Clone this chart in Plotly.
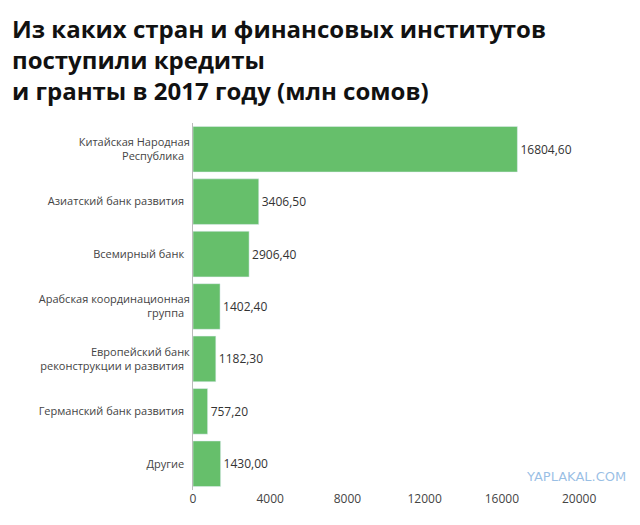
import plotly.graph_objects as go

categories = ["Китайская Народная<br>Республика", "Азиатский банк развития", "Всемирный банк",
              "Арабская координационная<br>группа", "Европейский банк<br>реконструкции и развития",
              "Германский банк развития", "Другие"]
values = [16804.60, 3406.50, 2906.40, 1402.40, 1182.30, 757.20, 1430.00]
labels = [f"{v:.2f}".replace(".", ",") for v in values]
xticks = [0, 4000, 8000, 12000, 16000, 20000]

L, R, T, B = 185, 11, 115, 43
W, H = 640 - L - R, 525 - T - B

fig = go.Figure(go.Bar(
    x=values, y=categories, orientation="h",
    marker_color="#66bf6b", text=labels, textposition="outside",
    textfont=dict(size=12, color="#333"), cliponaxis=False,
))

fig.update_layout(
    width=640, height=525,
    margin=dict(l=L, r=R, t=T, b=B),
    plot_bgcolor="white", paper_bgcolor="white",
    font=dict(family="Open Sans", size=11, color="#444"),
    bargap=0.13, showlegend=False,
    xaxis=dict(range=[0, 23000], tickvals=xticks, ticktext=[str(t) for t in xticks],
               showgrid=False, zeroline=False, automargin=False,
               tickfont=dict(size=12, color="#444")),
    yaxis=dict(autorange="reversed", showline=True, linecolor="#bbb", linewidth=1,
               automargin=False, ticks="", ticksuffix="  ", tickfont=dict(size=11, color="#444")),
)

fig.add_annotation(text="<b>Из каких стран и финансовых институтов<br>поступили кредиты<br>и гранты в 2017 году (млн сомов)</b>",
                   xref="paper", yref="paper", x=-(L - 2) / W, y=1 + (T - 2) / H,
                   xanchor="left", yanchor="top", align="left", showarrow=False,
                   font=dict(family="Open Sans", size=24, color="#111"))

fig.add_annotation(text="YAPLAKAL.COM", xref="paper", yref="paper", x=0.98, y=0.01,
                   xanchor="right", yanchor="bottom", showarrow=False,
                   font=dict(family="DejaVu Sans", size=13, color="rgba(120,170,220,0.75)"))

fig.write_html("out.html")
